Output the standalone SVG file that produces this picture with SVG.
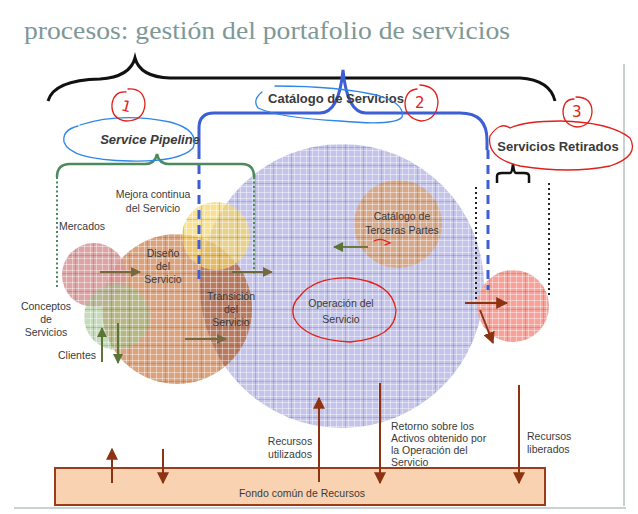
<svg xmlns="http://www.w3.org/2000/svg" width="638" height="514" viewBox="0 0 638 514">
<style>
.lbl{font-family:"Liberation Sans",Arial,sans-serif;font-size:10.5px;fill:#3a3a3a}
.hdr{font-family:"Liberation Sans",Arial,sans-serif;font-size:13px;font-weight:bold;fill:#3a3a3a}
.hand{fill:none;stroke-width:1.3;stroke-linecap:round}
.red{stroke:#e0201a}
.blue{stroke:#2f86e8}
.num{font-family:"DejaVu Sans",sans-serif;font-size:15px;fill:#e0201a}
</style>
<defs>
<pattern id="grid" width="6" height="6" patternUnits="userSpaceOnUse">
<path d="M0 0.5H6M0.5 0V6" stroke="#ffffff" stroke-opacity="0.42" stroke-width="1" fill="none"/>
</pattern>
<pattern id="grid2" width="18" height="18" patternUnits="userSpaceOnUse">
<path d="M0 3.5H18M3.5 0V18" stroke="#3c3c8c" stroke-opacity="0.2" stroke-width="1" fill="none"/>
</pattern>
<clipPath id="circs">
<circle cx="342" cy="286" r="142"/>
<circle cx="177" cy="309" r="75"/>
<circle cx="94" cy="275" r="32"/>
<circle cx="117" cy="317" r="33"/>
<circle cx="216" cy="236" r="34"/>
<circle cx="398" cy="224" r="44"/>
<circle cx="513" cy="306" r="36"/>
</clipPath>
<clipPath id="opClip"><circle cx="342" cy="286" r="142"/></clipPath>
<marker id="mOlive" viewBox="0 0 10 10" refX="9" refY="5" markerWidth="10" markerHeight="10" markerUnits="userSpaceOnUse" orient="auto"><path d="M0 0L10 5L0 10z" fill="#76693f"/></marker>
<marker id="mGreen" viewBox="0 0 10 10" refX="9" refY="5" markerWidth="10" markerHeight="10" markerUnits="userSpaceOnUse" orient="auto"><path d="M0 0L10 5L0 10z" fill="#5b7537"/></marker>
<marker id="mRed" viewBox="0 0 10 10" refX="9" refY="5" markerWidth="12" markerHeight="12" markerUnits="userSpaceOnUse" orient="auto"><path d="M0 0L10 5L0 10z" fill="#8e3312"/></marker>
</defs>
<rect width="638" height="514" fill="#ffffff"/>
<text x="24" y="39" font-family="'Liberation Serif','DejaVu Serif',serif" font-size="26" fill="#7e9898" textLength="486" lengthAdjust="spacingAndGlyphs">procesos: gestión del portafolio de servicios</text>
<path d="M624 64V506M14 508H626" stroke="#c8d2d2" stroke-width="2" fill="none"/>

<g id="operacion">
<circle cx="342" cy="286" r="142" fill="#c4c4ea"/>
</g>
<g id="diseno">
<circle cx="177" cy="309" r="75" fill="#d28f62" fill-opacity="0.82"/>
</g>
<g id="transicion">
<circle cx="177" cy="309" r="75" fill="#a5624a" fill-opacity="0.55" clip-path="url(#opClip)"/>
</g>
<g id="mercados">
<circle cx="94" cy="275" r="32" fill="#d69494" fill-opacity="0.85"/>
</g>
<g id="conceptos">
<circle cx="117" cy="317" r="33" fill="#9fc38d" fill-opacity="0.6"/>
</g>
<g id="mejora">
<circle cx="216" cy="236" r="34" fill="#f5d56a" fill-opacity="0.72"/>
</g>
<g id="terceras">
<circle cx="398" cy="224" r="44" fill="#d7a98b"/>
</g>
<g id="retirados">
<circle cx="513" cy="306" r="36" fill="#f6a29a"/>
</g>
<g clip-path="url(#circs)">
<rect x="0" y="100" width="638" height="350" fill="url(#grid)"/>
<rect x="0" y="100" width="638" height="350" fill="url(#grid2)"/>
</g>

<g id="braces" fill="none">
<path d="M48 101Q54 80 100 79Q130 77 135 58Q140 77 170 78L520 78Q550 80 555 101" stroke="#111" stroke-width="3"/>
<path d="M199 150V128Q199 113 214 113L320 113Q339 113 343 70Q347 113 366 113L460 113Q487 113 487 140V150" stroke="#3d5fd6" stroke-width="3"/>
<path d="M199 150V283M488 150V290" stroke="#3d5fd6" stroke-width="3" stroke-dasharray="9 6"/>
<path d="M57 177Q57 164 70 164L145 164Q155 164 157 154Q159 164 169 164L242 164Q254 164 254 177" stroke="#4c8a5c" stroke-width="2.5"/>
<path d="M57 177V288M254 177V276" stroke="#4c8a5c" stroke-width="2" stroke-dasharray="2 2.5"/>
<path d="M497 183V176Q497 173 502 173L510 173Q512 173 513 164Q514 173 516 173L524 173Q529 173 529 176V183" stroke="#111" stroke-width="2.5"/>
<path d="M476 187V300M549 183V298" stroke="#222" stroke-width="2" stroke-dasharray="2 3"/>
</g>

<g id="fondo">
<rect x="55" y="468" width="490" height="37" fill="#f9d2b2" stroke="#9c3c1a" stroke-width="2"/>
<text x="302" y="497" class="lbl" font-size="13" text-anchor="middle">Fondo común de Recursos</text>
</g>

<g id="connectors" fill="none" stroke-width="2">
<path d="M100 272H140" stroke="#76693f" marker-end="url(#mOlive)"/>
<path d="M232 272H272" stroke="#6c6a3c" marker-end="url(#mOlive)"/>
<path d="M185 339H226" stroke="#76693f" marker-end="url(#mOlive)"/>
<path d="M102 362V328" stroke="#5b7537" marker-end="url(#mGreen)"/>
<path d="M118 323V363" stroke="#5b7537" marker-end="url(#mGreen)"/>
<path d="M368 247H334" stroke="#6b7b3f" marker-end="url(#mGreen)"/>
<path d="M465 303H507" stroke="#8e3312" marker-end="url(#mRed)"/>
<path d="M480 310L493 343" stroke="#8e3312" marker-end="url(#mRed)"/>
<path d="M112 483V449" stroke="#8e3312" marker-end="url(#mRed)"/>
<path d="M163 449V483" stroke="#8e3312" marker-end="url(#mRed)"/>
<path d="M319 482V398" stroke="#8e3312" marker-end="url(#mRed)"/>
<path d="M380 383V483" stroke="#8e3312" marker-end="url(#mRed)"/>
<path d="M519 385V483" stroke="#8e3312" marker-end="url(#mRed)"/>
</g>

<g id="labels">
<text x="150" y="144" class="hdr" font-style="italic" text-anchor="middle">Service Pipeline</text>
<text x="336" y="103" class="hdr" text-anchor="middle">Catálogo de Servicios</text>
<text x="558" y="151" class="hdr" text-anchor="middle">Servicios Retirados</text>
<text x="153" y="198" class="lbl" font-size="11" text-anchor="middle">Mejora continua</text>
<text x="153" y="212" class="lbl" font-size="11" text-anchor="middle">del Servicio</text>
<text x="59" y="230" class="lbl" font-size="11">Mercados</text>
<text x="163" y="257" class="lbl" font-size="11" text-anchor="middle">Diseño</text>
<text x="163" y="270" class="lbl" font-size="11" text-anchor="middle">del</text>
<text x="163" y="283" class="lbl" font-size="11" text-anchor="middle">Servicio</text>
<text x="231" y="300" class="lbl" font-size="11" text-anchor="middle">Transición</text>
<text x="231" y="313" class="lbl" font-size="11" text-anchor="middle">del</text>
<text x="231" y="326" class="lbl" font-size="11" text-anchor="middle">Servicio</text>
<text x="46" y="310" class="lbl" font-size="11" text-anchor="middle">Conceptos</text>
<text x="46" y="323" class="lbl" font-size="11" text-anchor="middle">de</text>
<text x="46" y="336" class="lbl" font-size="11" text-anchor="middle">Servicios</text>
<text x="77" y="359" class="lbl" font-size="11" text-anchor="middle">Clientes</text>
<text x="402" y="220" class="lbl" font-size="10.5" text-anchor="middle">Catálogo de</text>
<text x="402" y="234" class="lbl" font-size="10.5" text-anchor="middle">Terceras Partes</text>
<text x="341" y="307" class="lbl" font-size="12.5" text-anchor="middle">Operación del</text>
<text x="341" y="323" class="lbl" font-size="12.5" text-anchor="middle">Servicio</text>
<text x="290" y="445" class="lbl" text-anchor="middle">Recursos</text>
<text x="290" y="458" class="lbl" text-anchor="middle">utilizados</text>
<text x="391" y="430" class="lbl">Retorno sobre los</text>
<text x="391" y="442" class="lbl">Activos obtenido por</text>
<text x="391" y="454" class="lbl">la Operación del</text>
<text x="391" y="466" class="lbl">Servicio</text>
<text x="527" y="440" class="lbl">Recursos</text>
<text x="527" y="453" class="lbl">liberados</text>
</g>

<g id="annotations">
<path class="hand blue" d="M80 125Q120 112 170 122Q200 130 193 148Q180 162 130 161Q70 160 64 142Q62 130 78 126"/>
<path class="hand blue" d="M262 92Q252 100 258 108Q280 118 340 121Q395 126 402 117Q405 104 380 96Q340 86 275 86"/>
<path class="hand red" d="M128 89Q144 88 145 104Q144 121 126 121Q111 119 112 104Q114 91 126 92"/>
<text x="122" y="111" class="num" transform="rotate(15 125 105)">1</text>
<path class="hand red" d="M420 85Q437 86 438 102Q437 120 421 121Q405 118 405 103Q406 90 417 89"/>
<text x="415" y="108" class="num">2</text>
<path class="hand red" d="M576 97Q592 97 592 112Q591 126 577 127Q563 125 563 111Q564 99 574 99"/>
<text x="572" y="117" class="num">3</text>
<path class="hand red" d="M510 128Q500 121 490 136Q486 158 520 166Q570 174 610 166Q640 156 630 138Q610 122 560 121Q525 121 510 128"/>
<path class="hand red" d="M300 296Q315 277 350 278Q392 282 396 310Q396 338 350 342Q305 340 294 318Q290 305 300 296"/>
<path class="hand red" d="M374 241Q380 238 386 241L390 243L385 245" stroke-width="2"/>
</g>
</svg>
